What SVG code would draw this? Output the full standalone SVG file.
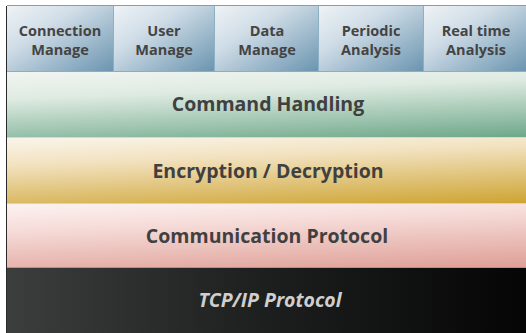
<svg xmlns="http://www.w3.org/2000/svg" width="526" height="333" viewBox="0 0 526 333">
<defs>
<linearGradient id="gBlue" x1="0" y1="0" x2="1" y2="1">
<stop offset="0" stop-color="#eef3f6"/><stop offset="0.35" stop-color="#d0dde7"/><stop offset="1" stop-color="#6b95b0"/>
</linearGradient>
<linearGradient id="gGreen" x1="0" y1="0" x2="0.4" y2="1.3">
<stop offset="0" stop-color="#f1f5f1"/><stop offset="0.3" stop-color="#dfebe2"/><stop offset="1" stop-color="#5f9f7e"/>
</linearGradient>
<linearGradient id="gGold" x1="0" y1="0" x2="0.4" y2="1.3">
<stop offset="0" stop-color="#faf5ec"/><stop offset="0.3" stop-color="#f2e2c0"/><stop offset="1" stop-color="#c99c20"/>
</linearGradient>
<linearGradient id="gPink" x1="0" y1="0" x2="0.4" y2="1.3">
<stop offset="0" stop-color="#fcf3f2"/><stop offset="0.3" stop-color="#f6dcd9"/><stop offset="1" stop-color="#db968c"/>
</linearGradient>
<linearGradient id="gDark" x1="0" y1="0" x2="1" y2="0">
<stop offset="0" stop-color="#3c3d3d"/><stop offset="0.5" stop-color="#1d1e1e"/><stop offset="1" stop-color="#050505"/>
</linearGradient>
<style>
.top{font-family:"Open Sans","DejaVu Sans",sans-serif;font-weight:bold;font-size:14.5px;fill:#444;text-anchor:middle}
.lay{font-family:"Open Sans","DejaVu Sans",sans-serif;font-weight:bold;font-size:19.5px;fill:#404040;text-anchor:middle}
.tcp{font-family:"Open Sans","DejaVu Sans",sans-serif;font-style:italic;font-weight:bold;font-size:19.5px;fill:#cfcfcf;text-anchor:middle}
.div{stroke:#8fb0c4;stroke-width:1}
</style>
</defs>
<rect x="0" y="0" width="526" height="333" fill="#ffffff"/>
<g id="connection-manage">
<rect x="7" y="6" width="106" height="65" fill="url(#gBlue)"/>
<text class="top" x="60" y="36">Connection</text><text class="top" x="60" y="55">Manage</text>
</g>
<g id="user-manage">
<rect x="114" y="6" width="100" height="65" fill="url(#gBlue)"/>
<text class="top" x="164" y="36">User</text><text class="top" x="164" y="55">Manage</text>
</g>
<g id="data-manage">
<rect x="215" y="6" width="103" height="65" fill="url(#gBlue)"/>
<text class="top" x="267" y="36">Data</text><text class="top" x="267" y="55">Manage</text>
</g>
<g id="periodic-analysis">
<rect x="319" y="6" width="104" height="65" fill="url(#gBlue)"/>
<text class="top" x="371" y="36">Periodic</text><text class="top" x="371" y="55">Analysis</text>
</g>
<g id="realtime-analysis">
<rect x="424" y="6" width="102" height="65" fill="url(#gBlue)"/>
<text class="top" x="476" y="36">Real time</text><text class="top" x="476" y="55">Analysis</text>
</g>
<g id="command-handling">
<rect x="7" y="71" width="519" height="66" fill="url(#gGreen)"/>
<line x1="7" y1="71.5" x2="526" y2="71.5" stroke="#8db3a8"/>
<text class="lay" x="268" y="111">Command Handling</text>
</g>
<g id="encryption">
<rect x="7" y="137" width="519" height="66" fill="url(#gGold)"/>
<line x1="7" y1="137.5" x2="526" y2="137.5" stroke="#eed79a"/>
<text class="lay" x="268" y="178">Encryption / Decryption</text>
</g>
<g id="communication-protocol">
<rect x="7" y="203" width="519" height="65" fill="url(#gPink)"/>
<line x1="7" y1="203.5" x2="526" y2="203.5" stroke="#f0c6c0"/>
<line x1="7" y1="267.5" x2="526" y2="267.5" stroke="#c98880"/>
<text class="lay" x="267" y="243">Communication Protocol</text>
</g>
<g id="tcpip-protocol">
<rect x="7" y="268" width="519" height="65" fill="url(#gDark)"/>
<text class="tcp" x="270" y="307">TCP/IP Protocol</text>
</g>
<g id="borders">
<line x1="6.5" y1="6" x2="6.5" y2="333" stroke="#2a2a2a"/>
<line x1="7" y1="5.5" x2="526" y2="5.5" stroke="#7f9fb3"/>
<line class="div" x1="113.5" y1="6" x2="113.5" y2="71"/>
<line class="div" x1="214.5" y1="6" x2="214.5" y2="71"/>
<line class="div" x1="318.5" y1="6" x2="318.5" y2="71"/>
<line class="div" x1="423.5" y1="6" x2="423.5" y2="71"/>
</g>
</svg>
